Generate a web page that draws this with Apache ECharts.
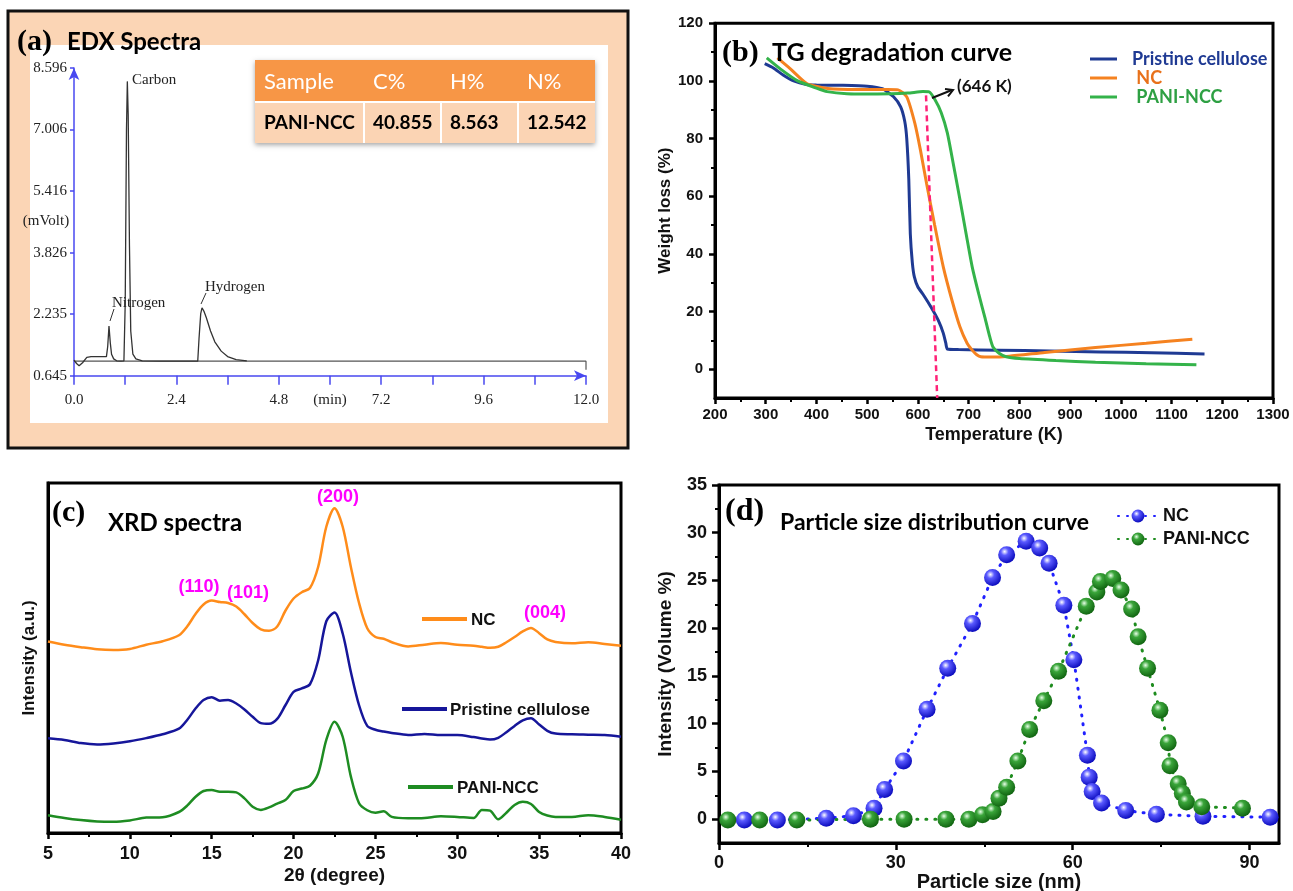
<!DOCTYPE html>
<html>
<head>
<meta charset="utf-8">
<title>PANI-NCC characterization</title>
<script src="https://cdn.jsdelivr.net/npm/echarts@6/dist/echarts.min.js"></script>
<style>
  html, body { margin: 0; padding: 0; background: #fff; }
  #charts { width: 1293px; height: 891px; }
</style>
</head>
<body>
<div id="charts"></div>
<script>
// ---- (a) EDX spectra ----
const edxTime = [0.00, 0.06, 0.12, 0.20, 0.30, 0.40, 0.55, 0.70, 0.76, 0.79, 0.82, 0.85, 0.88, 0.93, 1.00, 1.10,
    1.17, 1.20, 1.23, 1.25, 1.27, 1.30, 1.33, 1.38, 1.45, 1.60, 2.00, 2.50, 2.90, 2.93, 2.97, 3.00, 3.05, 3.10,
    3.20, 3.30, 3.45, 3.60, 3.80, 4.05];
const edxSignal = [1.05, 0.96, 0.90, 0.98, 1.12, 1.14, 1.14, 1.14, 1.14, 1.40, 1.93, 1.50, 1.20, 1.08, 1.03, 1.02,
    1.03, 2.50, 7.00, 8.25, 7.40, 4.00, 1.80, 1.20, 1.08, 1.03, 1.02, 1.02, 1.02, 1.60, 2.25, 2.40, 2.30, 2.15,
    1.80, 1.52, 1.28, 1.14, 1.06, 1.03];
const edxBaseTime = [0, 12, 12];
const edxBaseSignal = [1.02, 1.02, 0.80];
const edxXTicks = [0, 1.2, 2.4, 3.6, 4.8, 6.0, 7.2, 8.4, 9.6, 10.8, 12.0];
const edxXLabelValues = [0, 2.4, 4.8, 6.0, 7.2, 9.6, 12.0];
const edxXLabelTexts = ['0.0', '2.4', '4.8', '(min)', '7.2', '9.6', '12.0'];
const edxYTicks = [0.645, 2.235, 3.826, 5.416, 7.006, 8.596];
const tableHeader = ['Sample', 'C%', 'H%', 'N%'];
const tableRow = ['PANI-NCC', '40.855', '8.563', '12.542'];

// ---- (b) TG degradation ----
const tgPristineT = [298, 315, 335, 355, 380, 400, 450, 500, 530, 552, 566, 574, 578, 582, 585, 589, 593, 600, 610,
    626, 640, 650, 655, 658, 680, 760, 860, 960, 1060, 1165];
const tgPristineW = [106, 104.5, 102, 100, 98.8, 98.6, 98.5, 98.2, 97.3, 94.5, 91, 86, 80, 66, 47, 37, 32, 28.5, 26,
    21.5, 17, 12.5, 9, 7, 6.8, 6.6, 6.3, 6.0, 5.7, 5.3];
const tgNcT = [323, 348, 381, 422, 480, 540, 561, 578, 594, 605, 617, 633, 650, 667, 683, 697, 707, 716, 724, 745,
    780, 850, 950, 1050, 1141];
const tgNcW = [108, 104.3, 99.1, 97.4, 97.0, 97.0, 96.9, 94.5, 85.3, 76, 64.5, 50, 35.5, 24, 14.6, 9, 6.6, 5, 4.3,
    4.2, 4.5, 5.8, 7.5, 9, 10.4];
const tgPaniT = [302, 330, 363, 400, 421, 460, 520, 580, 610, 622, 634, 646, 658, 670, 683, 695, 707, 720, 732, 742,
    748, 760, 774, 800, 872, 950, 1050, 1149];
const tgPaniW = [108, 104, 100, 97.5, 96.3, 95.6, 95.5, 95.8, 96.3, 96.2, 93.4, 89, 82, 71, 58.7, 47, 35.5, 26, 18,
    11, 7.7, 5.5, 4.3, 3.7, 3.0, 2.4, 1.9, 1.5];
const tgOnsetT = [616, 638];
const tgOnsetW = [95, -10];
const tgYLabels = [0, 20, 40, 60, 80, 100, 120];
const tgYMinor = [10, 30, 50, 70, 90, 110];

// ---- (c) XRD spectra (stacked, arbitrary units) ----
const xrdAngle = [5, 6, 7, 8, 9, 10, 11, 12, 13,
    13.5, 14, 14.5, 15, 15.5, 16, 16.5, 17, 17.5, 18, 18.5, 19, 19.5, 20, 20.5, 21, 21.5, 22, 22.5, 23, 23.5, 24,
    24.5, 25, 25.5, 26,
    27, 28, 29, 30, 31,
    31.5, 32, 32.5, 33, 33.5, 34, 34.5, 35, 35.5, 36,
    37, 38, 39, 40];
const xrdNC = [54.7, 53.8, 53.1, 52.5, 52.3, 52.6, 53.8, 54.8, 56.5,
    59, 62.5, 65.3, 66.4, 66.0, 65.7, 64.7, 62.5, 60, 58.2, 57.8, 59, 63.5, 67, 68.8, 70, 76, 87.5, 92.8, 87.5, 76,
    65.7, 58.5, 56, 55.5, 54.5,
    53.3, 53.8, 54.3, 53.8, 53.5,
    53.2, 52.9, 53.2, 54.5, 56, 57.6, 58.6, 57.1, 55.3, 54.6,
    54.2, 54.5, 54.0, 53.5];
const xrdPristine = [27.1, 26.6, 25.7, 25.3, 25.6, 26.2, 27.1, 28.2, 29.8,
    32.3, 35.5, 38.0, 38.8, 37.8, 38.0, 37.0, 35.3, 33.2, 31.4, 31.2, 32.6, 36.5, 40.3, 41.3, 42.5, 49.3, 60.5, 63.0,
    57.0, 46.0, 36.5, 30.6, 29.5, 29.0, 28.6,
    28.0, 28.3, 28.0, 28.0, 27.4,
    27.0, 26.7, 27.2, 28.8, 30.6, 32.2, 32.8, 31.0, 29.2, 28.4,
    28.2, 28.1, 28.0, 27.5];
const xrdPani = [5.1, 4.3, 3.7, 3.3, 3.2, 3.6, 4.4, 4.5, 6.0,
    7.8, 10.3, 12.0, 12.3, 11.8, 11.8, 11.6, 9.9, 7.5, 6.6, 7.3, 8.4, 9.4, 12.0, 12.7, 13.5, 17.0, 26.6, 31.8, 27.5,
    16.1, 8.5, 6.5, 5.8, 6.2, 4.6,
    4.2, 4.3, 4.8, 4.6, 4.3,
    6.6, 6.4, 3.9, 5.8, 8.0, 8.9, 8.3, 6.0, 5.0, 4.6,
    4.6, 5.1, 4.6, 3.8];

// ---- (d) Particle size distribution ----
const psdNcSize = [4.3, 9.9, 18.2, 22.8, 26.3, 28.1, 31.3, 35.3, 38.8, 43.0, 46.4, 48.8, 52.1, 54.4, 56.0, 58.5,
    60.2, 62.5, 62.8, 63.3, 64.9, 69.0, 74.2, 82.1, 93.5];
const psdNcVol = [-0.1, -0.1, 0.1, 0.35, 1.15, 3.1, 6.1, 11.5, 15.8, 20.5, 25.3, 27.7, 29.1, 28.4, 26.8, 22.4,
    16.7, 6.7, 4.4, 2.9, 1.7, 0.9, 0.5, 0.3, 0.2];
const psdPaniSize = [1.5, 6.9, 13.2, 25.7, 31.4, 38.5, 42.4, 44.7, 46.5, 47.5, 48.8, 50.7, 52.7, 55.1, 57.6, 62.3,
    64.1, 64.7, 66.8, 68.2, 70.0, 71.1, 72.7, 74.8, 76.2, 76.5, 77.9, 78.6, 79.3, 81.9, 88.8];
const psdPaniVol = [-0.1, -0.1, -0.1, 0.0, 0.0, 0.0, 0.0, 0.45, 0.8, 2.2, 3.35, 6.1, 9.4, 12.4, 15.5, 22.3,
    23.8, 24.9, 25.2, 24.0, 22.0, 19.1, 15.8, 11.4, 8.0, 5.6, 3.7, 2.7, 1.8, 1.3, 1.15];
const psdXLabels = [0, 30, 60, 90];
const psdXMinor = [15, 45, 75];
const psdYLabels = [0, 5, 10, 15, 20, 25, 30, 35];
const psdYMinor = [2.5, 7.5, 12.5, 17.5, 22.5, 27.5, 32.5];

const SERIF = 'Liberation Serif';
const SANS = 'Liberation Sans';
const TITLE = 'Lato';

const zip = (xs, ys) => xs.map((x, i) => [x, ys[i]]);

// common look of the black framed axes
function boxAxis(extra) {
    return Object.assign({
        type: 'value',
        axisLine: { show: true, onZero: false, lineStyle: { color: '#000', width: 3 } },
        axisTick: { show: true, length: 6, lineStyle: { color: '#000', width: 2.5 } },
        axisLabel: { color: '#111', fontFamily: SANS, fontWeight: 'bold', fontSize: 15 },
        splitLine: { show: false },
        nameLocation: 'middle',
        nameTextStyle: { color: '#111', fontFamily: SANS, fontWeight: 'bold', fontSize: 17 }
    }, extra);
}
// extra axis carrying only the short minor ticks
function minorAxis(gridIndex, position, min, max, ticks) {
    return {
        type: 'value', gridIndex: gridIndex, position: position, min: min, max: max,
        axisLine: { show: false, onZero: false },
        axisLabel: { show: false },
        axisTick: { show: true, length: 4, customValues: ticks, lineStyle: { color: '#000', width: 2 } },
        splitLine: { show: false }
    };
}
function sphere(light, mid, dark) {
    return {
        type: 'radial', x: 0.38, y: 0.32, r: 0.75,
        colorStops: [{ offset: 0, color: light }, { offset: 0.3, color: mid }, { offset: 1, color: dark }]
    };
}
function txt(x, y, text, font, fill, align) {
    return {
        type: 'text', x: x, y: y, z: 20,
        style: { text: text, font: font, fill: fill || '#000', textAlign: align || 'left', textVerticalAlign: 'middle' }
    };
}
function seg(x1, y1, x2, y2, stroke, width) {
    return { type: 'line', z: 20, shape: { x1: x1, y1: y1, x2: x2, y2: y2 }, style: { stroke: stroke, lineWidth: width } };
}

const edxBlue = '#4848f0';
const myChart = echarts.init(document.getElementById('charts'));

// table in panel (a)
const tableCols = [255, 364, 441, 518];
const tableGraphics = [
    { type: 'rect', z: 15, shape: { x: 255, y: 60, width: 340, height: 83 },
      style: { fill: '#FBD4B4', shadowBlur: 5, shadowOffsetY: 2, shadowColor: 'rgba(0,0,0,0.35)' } },
    { type: 'rect', z: 16, shape: { x: 255, y: 60, width: 340, height: 42 }, style: { fill: '#F79646' } },
    seg(255, 102, 595, 102, '#fff', 2),
    seg(364, 103, 364, 143, '#fff', 2),
    seg(441, 103, 441, 143, '#fff', 2),
    seg(518, 103, 518, 143, '#fff', 2)
];
tableHeader.forEach((h, i) => tableGraphics.push(txt(tableCols[i] + 9, 82, h, '22px ' + TITLE, '#fff')));
tableRow.forEach((v, i) => tableGraphics.push(txt(tableCols[i] + 9, 123, v, 'bold 19px ' + TITLE, '#000')));

const option = {
    animation: false,
    backgroundColor: '#fff',
    textStyle: { fontFamily: SANS },
    grid: [
        { left: 74, top: 68, width: 512, height: 307.7, outerBoundsMode: 'none' },
        { left: 715, top: 23.3, width: 558, height: 374.7, show: true, borderColor: '#000', borderWidth: 3, outerBoundsMode: 'none' },
        { left: 48, top: 483, width: 573, height: 350, show: true, borderColor: '#000', borderWidth: 3, outerBoundsMode: 'none' },
        { left: 719, top: 485, width: 560, height: 358, show: true, borderColor: '#000', borderWidth: 3, outerBoundsMode: 'none' }
    ],
    legend: [
        {
            data: [
                { name: 'Pristine cellulose', textStyle: { color: '#1F3A93' } },
                { name: ' NC', textStyle: { color: '#E8711A' } },
                { name: ' PANI-NCC', textStyle: { color: '#2EA043' } }
            ],
            orient: 'vertical', left: 1085, top: 45, itemWidth: 27, itemHeight: 3, itemGap: 1,
            icon: 'rect', selectedMode: false,
            textStyle: { fontFamily: TITLE, fontWeight: 'bold', fontSize: 18, padding: [0, 0, 0, 10] }
        },
        {
            data: ['NC', 'PANI-NCC'],
            orient: 'vertical', left: 1112, top: 502, itemWidth: 40, itemHeight: 16, itemGap: 5,
            selectedMode: false,
            textStyle: { color: '#111', fontFamily: SANS, fontWeight: 'bold', fontSize: 18 }
        }
    ],
    xAxis: [
        {
            type: 'value', gridIndex: 0, min: 0, max: 12,
            axisLine: { show: true, onZero: false, symbol: ['none', 'arrow'], symbolSize: [8, 12],
                        lineStyle: { color: edxBlue, width: 1.5 } },
            axisTick: { show: true, length: 9, customValues: edxXTicks, lineStyle: { color: edxBlue, width: 1.5 } },
            axisLabel: {
                customValues: edxXLabelValues, margin: 17, color: '#222', fontFamily: SERIF, fontSize: 15,
                formatter: v => edxXLabelTexts[edxXLabelValues.findIndex(t => Math.abs(t - v) < 1e-6)]
            },
            splitLine: { show: false }
        },
        boxAxis({ gridIndex: 1, min: 200, max: 1300, interval: 100,
                  minorTick: { show: true, splitNumber: 2, length: 4, lineStyle: { color: '#000', width: 2 } },
                  axisLabel: { color: '#111', fontFamily: SANS, fontWeight: 'bold', fontSize: 15, margin: 9,
                               formatter: v => String(v) },
                  name: 'Temperature (K)', nameGap: 28,
                  nameTextStyle: { color: '#111', fontFamily: SANS, fontWeight: 'bold', fontSize: 18 } }),
        boxAxis({ gridIndex: 2, min: 5, max: 40, interval: 5,
                  minorTick: { show: true, splitNumber: 2, length: 4, lineStyle: { color: '#000', width: 2 } },
                  axisLabel: { color: '#111', fontFamily: SANS, fontWeight: 'bold', fontSize: 18, margin: 12 },
                  name: '2θ (degree)', nameGap: 33,
                  nameTextStyle: { color: '#111', fontFamily: SANS, fontWeight: 'bold', fontSize: 19 } }),
        boxAxis({ gridIndex: 3, min: 0, max: 95, position: 'bottom',
                  axisTick: { show: true, length: 7, customValues: psdXLabels, lineStyle: { color: '#000', width: 2.5 } },
                  axisLabel: { customValues: psdXLabels, color: '#111', fontFamily: SANS, fontWeight: 'bold', fontSize: 18, margin: 11 },
                  name: 'Particle size (nm)', nameGap: 27,
                  nameTextStyle: { color: '#111', fontFamily: SANS, fontWeight: 'bold', fontSize: 20 } }),
        minorAxis(3, 'bottom', 0, 95, psdXMinor)
    ],
    yAxis: [
        {
            type: 'value', gridIndex: 0, min: 0.645, max: 8.596,
            axisLine: { show: true, onZero: false, symbol: ['none', 'arrow'], symbolSize: [8, 12],
                        lineStyle: { color: edxBlue, width: 1.5 } },
            axisTick: { show: true, length: 4, customValues: edxYTicks, lineStyle: { color: edxBlue, width: 1.5 } },
            axisLabel: { customValues: edxYTicks, margin: 7, color: '#222', fontFamily: SERIF, fontSize: 15,
                         formatter: v => v.toFixed(3) },
            splitLine: { show: false }
        },
        boxAxis({ gridIndex: 1, min: -10, max: 120,
                  axisTick: { show: true, length: 6, customValues: tgYLabels, lineStyle: { color: '#000', width: 2.5 } },
                  axisLabel: { customValues: tgYLabels, color: '#111', fontFamily: SANS, fontWeight: 'bold', fontSize: 15, margin: 12 },
                  name: 'Weight loss (%)', nameGap: 38 }),
        minorAxis(1, 'left', -10, 120, tgYMinor),
        boxAxis({ gridIndex: 2, min: 0, max: 100,
                  axisTick: { show: false }, axisLabel: { show: false },
                  name: 'Intensity (a.u.)', nameGap: 10 }),
        boxAxis({ gridIndex: 3, min: -2.5, max: 35, position: 'left',
                  axisTick: { show: true, length: 7, customValues: psdYLabels, lineStyle: { color: '#000', width: 2.5 } },
                  axisLabel: { customValues: psdYLabels, color: '#111', fontFamily: SANS, fontWeight: 'bold', fontSize: 18, margin: 12 },
                  name: 'Intensity (Volume %)', nameGap: 44,
                  nameTextStyle: { color: '#111', fontFamily: SANS, fontWeight: 'bold', fontSize: 19 } }),
        minorAxis(3, 'left', -2.5, 35, psdYMinor)
    ],
    series: [
        // (a)
        { name: 'EDX baseline', type: 'line', xAxisIndex: 0, yAxisIndex: 0, symbol: 'none',
          data: zip(edxBaseTime, edxBaseSignal), lineStyle: { color: '#555', width: 1.2 } },
        { name: 'EDX signal', type: 'line', xAxisIndex: 0, yAxisIndex: 0, symbol: 'none',
          data: zip(edxTime, edxSignal), lineStyle: { color: '#333', width: 1.3 } },
        // (b)
        { name: 'Pristine cellulose', type: 'line', xAxisIndex: 1, yAxisIndex: 1, symbol: 'none',
          smooth: 0.2, data: zip(tgPristineT, tgPristineW),
          itemStyle: { color: '#1F3A93' }, lineStyle: { color: '#1F3A93', width: 3 } },
        { name: ' NC', type: 'line', xAxisIndex: 1, yAxisIndex: 1, symbol: 'none',
          smooth: 0.2, data: zip(tgNcT, tgNcW),
          itemStyle: { color: '#F58220' }, lineStyle: { color: '#F58220', width: 3 } },
        { name: ' PANI-NCC', type: 'line', xAxisIndex: 1, yAxisIndex: 1, symbol: 'none',
          smooth: 0.2, data: zip(tgPaniT, tgPaniW),
          itemStyle: { color: '#34B34A' }, lineStyle: { color: '#34B34A', width: 3 } },
        { name: 'onset', type: 'line', xAxisIndex: 1, yAxisIndex: 1, symbol: 'none', z: 5,
          data: zip(tgOnsetT, tgOnsetW), lineStyle: { color: '#FF2277', width: 2.5, type: [6, 4] } },
        // (c)
        { name: 'XRD NC', type: 'line', xAxisIndex: 2, yAxisIndex: 3, symbol: 'none', smooth: 0.3,
          data: zip(xrdAngle, xrdNC), lineStyle: { color: '#FF8C1A', width: 2.5 } },
        { name: 'XRD Pristine cellulose', type: 'line', xAxisIndex: 2, yAxisIndex: 3, symbol: 'none', smooth: 0.3,
          data: zip(xrdAngle, xrdPristine), lineStyle: { color: '#16169A', width: 2.5 } },
        { name: 'XRD PANI-NCC', type: 'line', xAxisIndex: 2, yAxisIndex: 3, symbol: 'none', smooth: 0.3,
          data: zip(xrdAngle, xrdPani), lineStyle: { color: '#1E8C22', width: 2.5 } },
        // (d)
        { name: 'NC', type: 'line', xAxisIndex: 3, yAxisIndex: 4, symbol: 'circle', symbolSize: 17,
          data: zip(psdNcSize, psdNcVol),
          itemStyle: { color: sphere('#ffffff', '#5a5aff', '#0000b4') },
          lineStyle: { color: '#2020ff', width: 3, type: [1, 8], cap: 'round' } },
        { name: 'PANI-NCC', type: 'line', xAxisIndex: 3, yAxisIndex: 4, symbol: 'circle', symbolSize: 17,
          data: zip(psdPaniSize, psdPaniVol),
          itemStyle: { color: sphere('#e8ffe8', '#3aa53a', '#0b5c0b') },
          lineStyle: { color: '#1e8c1e', width: 3, type: [1, 8], cap: 'round' } }
    ],
    graphic: {
        elements: [
            // panel (a) frame
            { type: 'rect', z: -10, shape: { x: 8, y: 11, width: 620, height: 437 },
              style: { fill: '#FBD5B5', stroke: '#111', lineWidth: 3 } },
            { type: 'rect', z: -9, shape: { x: 30, y: 45, width: 578, height: 378 }, style: { fill: '#fff' } },
            txt(17, 42, '(a)', 'bold 30px ' + SERIF),
            txt(67, 42, 'EDX Spectra', 'bold 24px ' + TITLE),
            txt(46, 221, '(mVolt)', '15px ' + SERIF, '#222', 'center'),
            txt(132, 80, 'Carbon', '15px ' + SERIF, '#222'),
            txt(112, 303, 'Nitrogen', '15px ' + SERIF, '#222'),
            seg(114, 309, 110, 321, '#333', 1),
            txt(205, 287, 'Hydrogen', '15px ' + SERIF, '#222'),
            seg(206, 293, 201, 304, '#333', 1),
            ...tableGraphics,
            // panel (b)
            txt(722, 53, '(b)', 'bold 30px ' + SERIF),
            txt(772, 53, 'TG degradation curve', 'bold 25px ' + TITLE),
            txt(957, 87, '(646 K)', 'bold 17px ' + TITLE, '#111'),
            seg(932, 98, 952, 90, '#111', 2),
            { type: 'polyline', z: 20, shape: { points: [[945, 88.9], [953, 90], [948, 96.3]] },
              style: { stroke: '#111', lineWidth: 2, fill: null } },
            // panel (c)
            txt(52, 513, '(c)', 'bold 30px ' + SERIF),
            txt(108, 523, 'XRD spectra', 'bold 24px ' + TITLE),
            txt(338, 497, '(200)', 'bold 18px ' + SANS, '#FF00FF', 'center'),
            txt(199, 587, '(110)', 'bold 18px ' + SANS, '#FF00FF', 'center'),
            txt(248, 593, '(101)', 'bold 18px ' + SANS, '#FF00FF', 'center'),
            txt(545, 613, '(004)', 'bold 18px ' + SANS, '#FF00FF', 'center'),
            seg(422, 619, 467, 619, '#FF8C1A', 4),
            txt(471, 620, 'NC', 'bold 17px ' + SANS, '#111'),
            seg(402, 709, 447, 709, '#16169A', 4),
            txt(450, 710, 'Pristine cellulose', 'bold 17px ' + SANS, '#111'),
            seg(408, 787, 453, 787, '#1E8C22', 4),
            txt(457, 788, 'PANI-NCC', 'bold 17px ' + SANS, '#111'),
            // panel (d)
            txt(725, 512, '(d)', 'bold 32px ' + SERIF),
            txt(780, 523, 'Particle size distribution curve', 'bold 23px ' + TITLE)
        ]
    }
};

myChart.setOption(option);
</script>
</body>
</html>
